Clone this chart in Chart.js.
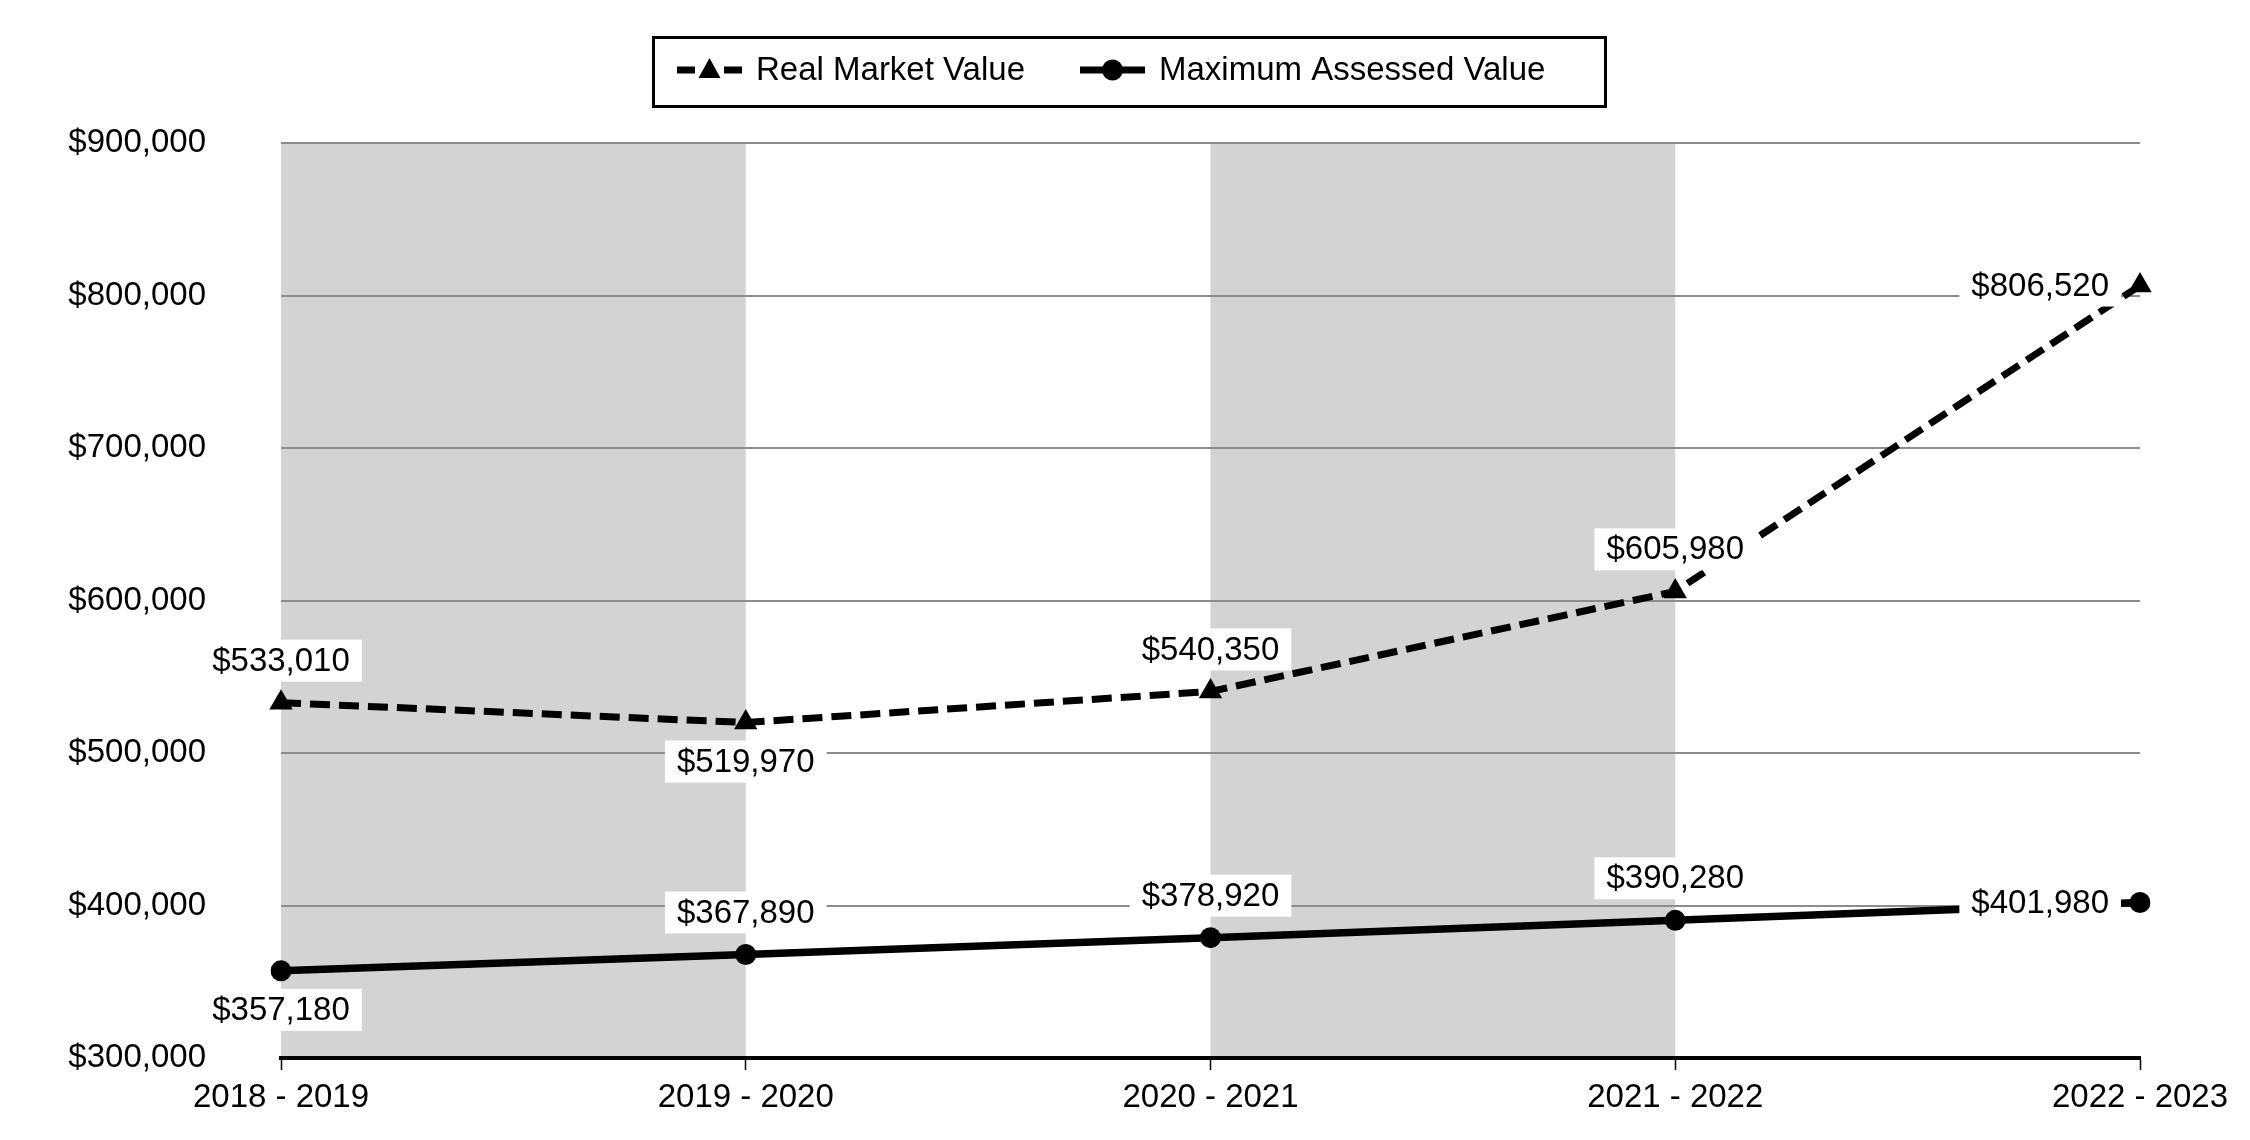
<!DOCTYPE html>
<html>
<head>
<meta charset="utf-8">
<script src="https://cdn.jsdelivr.net/npm/chart.js@4"></script>
<style>
  html, body { margin: 0; padding: 0; background: #fff; }
  #wrap { width: 2250px; height: 1140px; }
</style>
</head>
<body>
<div id="wrap"><canvas id="value_chart" width="2250" height="1140"></canvas></div>
<script>
// data
var years = ["2018 - 2019", "2019 - 2020", "2020 - 2021", "2021 - 2022", "2022 - 2023"];
var realMarketValue = [533010, 519970, 540350, 605980, 806520];
var maxAssessedValue = [357180, 367890, 378920, 390280, 401980];
var yTicks = [300000, 400000, 500000, 600000, 700000, 800000, 900000];

// where each value label sits relative to its point
var rmvLabelPos = ["above", "below", "above", "above", "left"];
var mavLabelPos = ["below", "above", "above", "above", "left"];

var FONT = "'Liberation Sans', Arial, sans-serif";
Chart.defaults.font.family = FONT;
Chart.defaults.color = "#000";

function money(v) {
  return "$" + Number(v).toLocaleString("en-US");
}

// gray bands between every other pair of categories
var bandsPlugin = {
  id: "bands",
  beforeDraw: function (chart) {
    var ctx = chart.ctx, x = chart.scales.x, area = chart.chartArea;
    ctx.save();
    ctx.fillStyle = "#d3d3d3";
    for (var i = 0; i < years.length - 1; i += 2) {
      var x0 = x.getPixelForValue(i), x1 = x.getPixelForValue(i + 1);
      ctx.fillRect(x0, area.top, x1 - x0, area.bottom - area.top);
    }
    ctx.restore();
  }
};

// value labels with white boxes
var valueLabels = {
  id: "valueLabels",
  afterDatasetsDraw: function (chart) {
    var ctx = chart.ctx;
    ctx.save();
    ctx.font = "33px " + FONT;
    ctx.textBaseline = "middle";
    chart.data.datasets.forEach(function (ds, di) {
      var meta = chart.getDatasetMeta(di);
      var pos = di === 0 ? rmvLabelPos : mavLabelPos;
      meta.data.forEach(function (pt, i) {
        var txt = money(ds.data[i]);
        var w = ctx.measureText(txt).width;
        var cx, cy = pt.y;
        if (pos[i] === "above") { cx = pt.x; cy = pt.y - 42; }
        else if (pos[i] === "below") { cx = pt.x; cy = pt.y + 39; }
        else { cx = pt.x - 31 - w / 2; }
        ctx.fillStyle = "#fff";
        ctx.fillRect(cx - w / 2 - 12, cy - 21, w + 24, 42);
        ctx.fillStyle = "#000";
        ctx.textAlign = "center";
        ctx.fillText(txt, cx, cy + 1);
      });
    });
    ctx.restore();
  }
};

// boxed legend at the top
var boxLegend = {
  id: "boxLegend",
  afterDraw: function (chart) {
    var ctx = chart.ctx;
    ctx.save();
    ctx.strokeStyle = "#000";
    ctx.lineWidth = 3;
    ctx.strokeRect(653.5, 37.5, 952, 69);
    var cy = 70;
    ctx.lineWidth = 7;
    ctx.fillStyle = "#000";
    // real market value: - triangle -
    ctx.beginPath();
    ctx.moveTo(677, cy); ctx.lineTo(695, cy);
    ctx.moveTo(724, cy); ctx.lineTo(742, cy);
    ctx.stroke();
    ctx.beginPath();
    ctx.moveTo(709.5, cy - 12); ctx.lineTo(720.5, cy + 8); ctx.lineTo(698.5, cy + 8);
    ctx.closePath(); ctx.fill();
    // maximum assessed value: solid line with dot
    ctx.beginPath();
    ctx.moveTo(1080, cy); ctx.lineTo(1145, cy);
    ctx.stroke();
    ctx.beginPath();
    ctx.arc(1112.5, cy, 10.5, 0, Math.PI * 2);
    ctx.fill();
    ctx.font = "33px " + FONT;
    ctx.textBaseline = "middle";
    ctx.textAlign = "left";
    ctx.fillText("Real Market Value", 756, cy + 1);
    ctx.fillText("Maximum Assessed Value", 1159, cy + 1);
    ctx.restore();
  }
};

var ctx = document.getElementById("value_chart").getContext("2d");
var chart = new Chart(ctx, {
  type: "line",
  data: {
    labels: years,
    datasets: [
      {
        label: "Real Market Value",
        data: realMarketValue,
        borderColor: "#000",
        backgroundColor: "#000",
        borderWidth: 7,
        borderDash: [20, 9],
        pointStyle: "triangle",
        pointRadius: 13.5,
        pointBorderWidth: 0,
        tension: 0,
        fill: false
      },
      {
        label: "Maximum Assessed Value",
        data: maxAssessedValue,
        borderColor: "#000",
        backgroundColor: "#000",
        borderWidth: 7.5,
        pointStyle: "circle",
        pointRadius: 10.5,
        pointBorderWidth: 0,
        tension: 0,
        fill: false
      }
    ]
  },
  options: {
    responsive: false,
    animation: false,
    devicePixelRatio: 1,
    layout: { padding: { top: 143, right: 110, bottom: 0, left: 0 } },
    plugins: {
      legend: { display: false },
      tooltip: { enabled: false }
    },
    scales: {
      x: {
        offset: false,
        grid: {
          drawOnChartArea: false,
          drawTicks: true,
          tickLength: 12,
          tickWidth: 1.5,
          tickColor: "#000"
        },
        border: { display: true, color: "#000", width: 4 },
        ticks: { font: { size: 33 }, color: "#000", padding: 8, maxRotation: 0, autoSkip: false },
        afterFit: function (s) { s.height = 82; }
      },
      y: {
        min: 300000,
        max: 900000,
        afterBuildTicks: function (s) {
          s.ticks = yTicks.map(function (v) { return { value: v }; });
        },
        // invisible tick marks make the gap between labels and plot
        grid: { color: "#8c8c8c", lineWidth: 2, drawTicks: true, tickLength: 73, tickColor: "rgba(0,0,0,0)" },
        border: { display: false },
        ticks: {
          font: { size: 33 },
          color: "#000",
          padding: 2,
          callback: function (v) { return money(v); }
        },
        afterFit: function (s) { s.width = 281; }
      }
    }
  },
  plugins: [bandsPlugin, valueLabels, boxLegend]
});
</script>
</body>
</html>
